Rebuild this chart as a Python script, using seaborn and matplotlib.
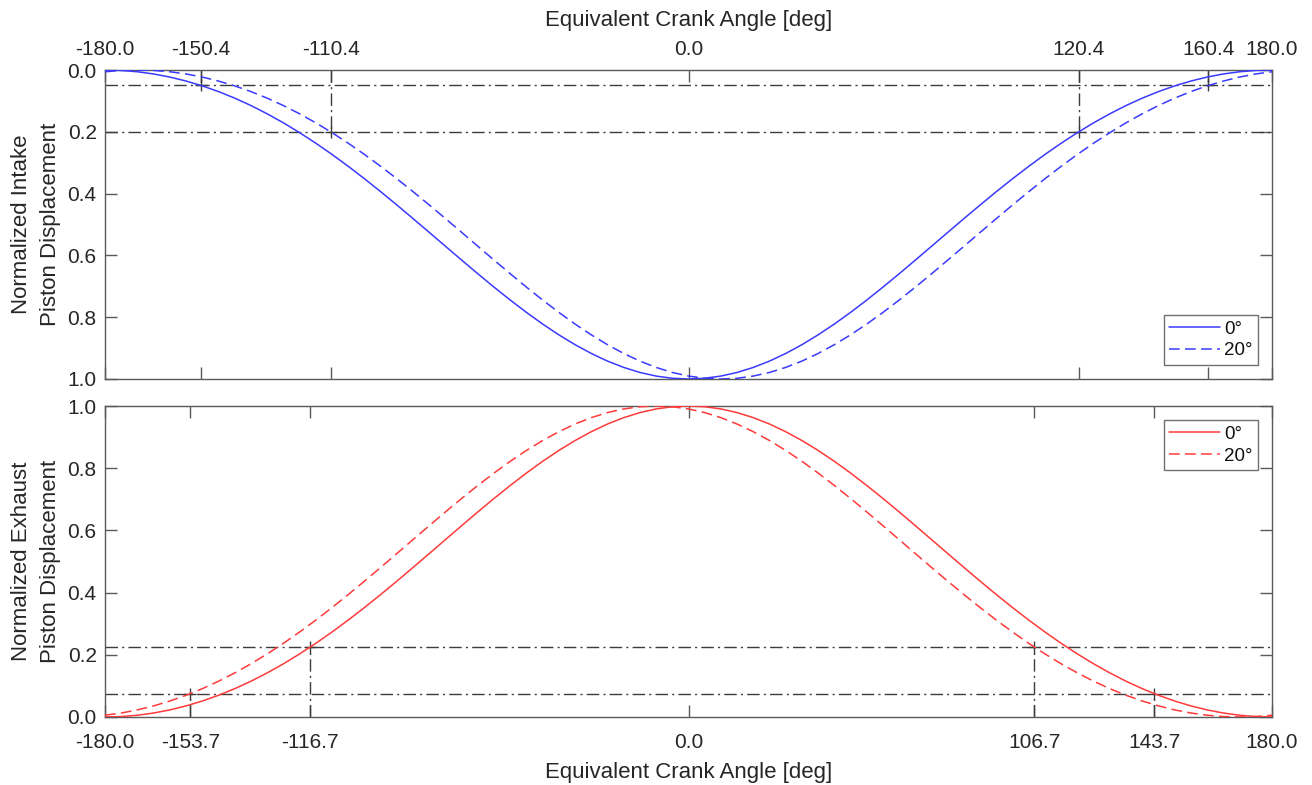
import numpy as np
import pandas as pd
import matplotlib
matplotlib.use("Agg")
import matplotlib.pyplot as plt
import seaborn as sns

# ---------------- data ----------------
angle = [-180, -175, -170, -165, -160, -155, -150, -145, -140, -135, -130, -125,
         -120, -115, -110, -105, -100, -95, -90, -85, -80, -75, -70, -65,
         -60, -55, -50, -45, -40, -35, -30, -25, -20, -15, -10, -5,
         0, 5, 10, 15, 20, 25, 30, 35, 40, 45, 50, 55,
         60, 65, 70, 75, 80, 85, 90, 95, 100, 105, 110, 115,
         120, 125, 130, 135, 140, 145, 150, 155, 160, 165, 170, 175, 180]

intake_0 = [0.0000, 0.0014, 0.0057, 0.0128, 0.0228, 0.0357, 0.0513, 0.0698, 0.0910, 0.1149, 0.1416, 0.1708,
            0.2026, 0.2367, 0.2730, 0.3114, 0.3516, 0.3934, 0.4365, 0.4806, 0.5253, 0.5702, 0.6150, 0.6593,
            0.7026, 0.7444, 0.7844, 0.8221, 0.8570, 0.8889, 0.9173, 0.9420, 0.9625, 0.9788, 0.9905, 0.9976,
            1.0000, 0.9976, 0.9905, 0.9788, 0.9625, 0.9420, 0.9173, 0.8889, 0.8570, 0.8221, 0.7844, 0.7444,
            0.7026, 0.6593, 0.6150, 0.5702, 0.5253, 0.4806, 0.4365, 0.3934, 0.3516, 0.3114, 0.2730, 0.2367,
            0.2026, 0.1708, 0.1416, 0.1149, 0.0910, 0.0698, 0.0513, 0.0357, 0.0228, 0.0128, 0.0057, 0.0014, 0.0000]

intake_20 = [0.0057, 0.0014, 0.0000, 0.0014, 0.0057, 0.0128, 0.0228, 0.0357, 0.0513, 0.0698, 0.0910, 0.1149,
             0.1416, 0.1708, 0.2026, 0.2367, 0.2730, 0.3114, 0.3516, 0.3934, 0.4365, 0.4806, 0.5253, 0.5702,
             0.6150, 0.6593, 0.7026, 0.7444, 0.7844, 0.8221, 0.8570, 0.8889, 0.9173, 0.9420, 0.9625, 0.9788,
             0.9905, 0.9976, 1.0000, 0.9976, 0.9905, 0.9788, 0.9625, 0.9420, 0.9173, 0.8889, 0.8570, 0.8221,
             0.7844, 0.7444, 0.7026, 0.6593, 0.6150, 0.5702, 0.5253, 0.4806, 0.4365, 0.3934, 0.3516, 0.3114,
             0.2730, 0.2367, 0.2026, 0.1708, 0.1416, 0.1149, 0.0910, 0.0698, 0.0513, 0.0357, 0.0228, 0.0128, 0.0057]

exhaust_0 = [0.0000, 0.0014, 0.0057, 0.0128, 0.0228, 0.0357, 0.0513, 0.0698, 0.0910, 0.1149, 0.1416, 0.1708,
             0.2026, 0.2367, 0.2730, 0.3114, 0.3516, 0.3934, 0.4365, 0.4806, 0.5253, 0.5702, 0.6150, 0.6593,
             0.7026, 0.7444, 0.7844, 0.8221, 0.8570, 0.8889, 0.9173, 0.9420, 0.9625, 0.9788, 0.9905, 0.9976,
             1.0000, 0.9976, 0.9905, 0.9788, 0.9625, 0.9420, 0.9173, 0.8889, 0.8570, 0.8221, 0.7844, 0.7444,
             0.7026, 0.6593, 0.6150, 0.5702, 0.5253, 0.4806, 0.4365, 0.3934, 0.3516, 0.3114, 0.2730, 0.2367,
             0.2026, 0.1708, 0.1416, 0.1149, 0.0910, 0.0698, 0.0513, 0.0357, 0.0228, 0.0128, 0.0057, 0.0014, 0.0000]

exhaust_20 = [0.0057, 0.0128, 0.0228, 0.0357, 0.0513, 0.0698, 0.0910, 0.1149, 0.1416, 0.1708, 0.2026, 0.2367,
              0.2730, 0.3114, 0.3516, 0.3934, 0.4365, 0.4806, 0.5253, 0.5702, 0.6150, 0.6593, 0.7026, 0.7444,
              0.7844, 0.8221, 0.8570, 0.8889, 0.9173, 0.9420, 0.9625, 0.9788, 0.9905, 0.9976, 1.0000, 0.9976,
              0.9905, 0.9788, 0.9625, 0.9420, 0.9173, 0.8889, 0.8570, 0.8221, 0.7844, 0.7444, 0.7026, 0.6593,
              0.6150, 0.5702, 0.5253, 0.4806, 0.4365, 0.3934, 0.3516, 0.3114, 0.2730, 0.2367, 0.2026, 0.1708,
              0.1416, 0.1149, 0.0910, 0.0698, 0.0513, 0.0357, 0.0228, 0.0128, 0.0057, 0.0014, 0.0000, 0.0014, 0.0057]

series_labels = ["0°", "20°"]

# reference marks
intake_levels = [0.05, 0.2]
intake_marks = [-150.4, -110.4, 120.4, 160.4]
intake_mark_levels = [0.05, 0.2, 0.2, 0.05]
exhaust_levels = [0.075, 0.225]
exhaust_marks = [-153.7, -116.7, 106.7, 143.7]
exhaust_mark_levels = [0.075, 0.225, 0.225, 0.075]

top_ticks = [-180.0, -150.4, -110.4, 0.0, 120.4, 160.4, 180.0]
bottom_ticks = [-180.0, -153.7, -116.7, 0.0, 106.7, 143.7, 180.0]
y_ticks = [0.0, 0.2, 0.4, 0.6, 0.8, 1.0]

# ---------------- style ----------------
sns.set_theme(style="white")
plt.rcParams["font.family"] = ["Liberation Sans", "DejaVu Sans"]

BLUE = "#3a3aff"
RED = "#ff3a3a"
REF = "#3c3c3c"
SPINE = "#5a5a5a"
TXT = "#262626"
DASH = (7, 3.5)
DASHDOT = (0, (9, 3, 1.5, 3))
TICK_FS = 15

W, H = 1312, 785
fig = plt.figure(figsize=(W / 100, H / 100), dpi=100)
ax1 = fig.add_axes([105 / W, 1 - 379 / H, 1167 / W, 309 / H])
ax2 = fig.add_axes([105 / W, 1 - 717 / H, 1167 / W, 311 / H])


def draw(ax, y0, y20, color, levels, marks, mark_levels):
    for lv in levels:
        ax.axhline(lv, color=REF, lw=1.0, ls=DASHDOT, zorder=1)
    ax.vlines(marks, 0, mark_levels, colors=REF, lw=1.0, linestyles=[DASHDOT], zorder=1)
    ax.plot(marks, mark_levels, ls="none", marker="+", ms=9, mew=1.0, color=REF, zorder=2)
    df = pd.DataFrame({"angle": angle, "s0": y0, "s20": y20})
    sns.lineplot(data=df, x="angle", y="s0", ax=ax, color=color, lw=1.1,
                 label=series_labels[0], zorder=3)
    sns.lineplot(data=df, x="angle", y="s20", ax=ax, color=color, lw=1.1,
                 label=series_labels[1], zorder=3)
    ax.lines[-1].set_dashes(DASH)


draw(ax1, intake_0, intake_20, BLUE, intake_levels, intake_marks, intake_mark_levels)
draw(ax2, exhaust_0, exhaust_20, RED, exhaust_levels, exhaust_marks, exhaust_mark_levels)

for ax in (ax1, ax2):
    ax.set_xlim(-180, 180)
    for s in ax.spines.values():
        s.set_color(SPINE)
        s.set_linewidth(1.0)
    ax.set_yticks(y_ticks)
    ax.set_yticklabels([f"{v:.1f}" for v in y_ticks])
    ax.tick_params(axis="y", direction="in", left=True, right=True, length=8.5,
                   width=1.0, color=SPINE, pad=6, labelsize=TICK_FS, labelcolor=TXT)

ax1.set_ylim(1, 0)
ax2.set_ylim(0, 1)

ax1.set_xticks(top_ticks)
ax1.set_xticklabels([f"{v:.1f}" for v in top_ticks])
ax1.tick_params(axis="x", direction="in", top=True, bottom=True, labeltop=True,
                labelbottom=False, length=8.5, width=1.0, color=SPINE, pad=8,
                labelsize=TICK_FS, labelcolor=TXT)
ax1.xaxis.set_label_position("top")
ax1.set_xlabel("Equivalent Crank Angle [deg]", fontsize=16, color=TXT)
ax1.xaxis.set_label_coords(0.5, 1.142)

ax2.set_xticks(bottom_ticks)
ax2.set_xticklabels([f"{v:.1f}" for v in bottom_ticks])
ax2.tick_params(axis="x", direction="in", top=True, bottom=True, labeltop=False,
                labelbottom=True, length=8.5, width=1.0, color=SPINE, pad=11.5,
                labelsize=TICK_FS, labelcolor=TXT)
ax2.set_xlabel("Equivalent Crank Angle [deg]", fontsize=16, color=TXT)
ax2.xaxis.set_label_coords(0.5, -0.145)

ax1.set_ylabel("Normalized Intake\nPiston Displacement", fontsize=16, color=TXT, linespacing=1.55)
ax1.yaxis.set_label_coords(-0.0373, 0.5)
ax2.set_ylabel("Normalized Exhaust\nPiston Displacement", fontsize=16, color=TXT, linespacing=1.55)
ax2.yaxis.set_label_coords(-0.0373, 0.5)

leg_kw = dict(fontsize=13.5, frameon=True, fancybox=False, framealpha=1, edgecolor="#707070",
              handlelength=2.7, handletextpad=0.2, borderpad=0.3, labelspacing=0.25,
              borderaxespad=0.75)
h1, l1 = ax1.get_legend_handles_labels()
lg1 = ax1.legend(h1, l1, loc="lower right", **leg_kw)
h2, l2 = ax2.get_legend_handles_labels()
lg2 = ax2.legend(h2, l2, loc="upper right", **leg_kw)
for lg in (lg1, lg2):
    lg.get_frame().set_linewidth(1.0)
    for t in lg.get_texts():
        t.set_color("#111111")

fig.savefig("out.png", dpi=100)
